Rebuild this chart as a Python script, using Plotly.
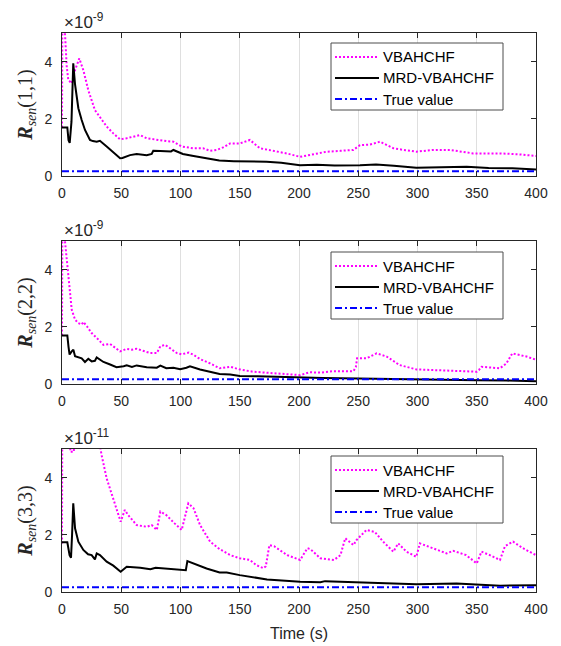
import plotly.graph_objects as go
from plotly.subplots import make_subplots

# time axis ticks
x_ticks = [0, 50, 100, 150, 200, 250, 300, 350, 400]
y_ticks = [0, 2, 4]
true_value = 0.17
series_names = ["VBAHCHF", "MRD-VBAHCHF", "True value"]

# panel 1: R_sen(1,1), units of 1e-9
t1_mrd = [0, 4.5, 5.5, 6.5, 8, 9.5, 11, 13.8, 16.6, 19.4, 23.6, 26, 29.3, 32, 37.7, 43.3, 49, 51, 54,
          57.4, 63, 67, 71.5, 75.7, 77, 83, 88.3, 92, 94, 96, 102, 111, 122, 132.7, 145, 158, 172.7, 185,
          200.8, 215, 230, 251.5, 265, 280, 299, 320, 341.5, 360, 380, 400]
v1_mrd = [1.70, 1.70, 1.25, 1.16, 1.9, 3.94, 3.2, 2.37, 1.96, 1.61, 1.26, 1.22, 1.2, 1.23, 1.03, 0.82,
          0.62, 0.63, 0.68, 0.73, 0.77, 0.76, 0.73, 0.77, 0.88, 0.87, 0.85, 0.86, 0.91, 0.88, 0.77, 0.70,
          0.62, 0.54, 0.52, 0.51, 0.5, 0.46, 0.38, 0.39, 0.37, 0.38, 0.40, 0.36, 0.29, 0.31, 0.32, 0.28,
          0.27, 0.23]
t1_vb = [0, 0.3, 2.5, 4, 5.3, 8.2, 11, 14.6, 18, 22.2, 27.8, 32, 37.7, 43.3, 49, 54.6, 60, 65.8, 71.5,
         77, 82.7, 88, 94, 101, 110.8, 119, 125, 130.5, 136, 141.8, 150.2, 158.6, 167, 178, 189.6, 200.8,
         212, 223.4, 235, 245.8, 251.5, 260, 268.4, 279.6, 290, 299, 313, 327.4, 347, 369.6, 385, 397.7, 400]
v1_vb = [1.7, 6.0, 5.0, 3.82, 3.36, 3.24, 3.7, 4.11, 3.7, 3.0, 2.3, 2.07, 1.73, 1.49, 1.28, 1.32, 1.38,
         1.43, 1.32, 1.28, 1.26, 1.22, 1.2, 1.03, 0.97, 0.97, 0.88, 0.91, 1.0, 1.14, 1.14, 1.26, 0.97, 0.88,
         0.79, 0.67, 0.75, 0.85, 0.88, 0.91, 1.08, 1.1, 1.2, 0.97, 0.9, 0.85, 0.91, 0.91, 0.79, 0.79, 0.76,
         0.7, 0.7]

# panel 2: R_sen(2,2), units of 1e-9
t2_mrd = [0, 4.5, 5.5, 6.4, 8.2, 9.6, 11, 13.8, 16.6, 19.4, 22.2, 25, 27.8, 29.3, 35, 40.6, 46, 52, 54.6,
          59, 63, 71.5, 80, 83, 88, 94, 99.7, 105, 108, 116.5, 125, 133, 142, 150, 165, 180, 200.8, 220,
          250, 275, 300, 330, 350, 375, 400]
v2_mrd = [1.7, 1.7, 1.3, 1.03, 1.14, 1.2, 0.97, 0.93, 0.9, 0.77, 0.88, 0.79, 0.81, 0.93, 0.77, 0.68, 0.59,
          0.62, 0.65, 0.6, 0.65, 0.59, 0.57, 0.64, 0.55, 0.57, 0.52, 0.57, 0.62, 0.51, 0.44, 0.35, 0.33,
          0.28, 0.27, 0.25, 0.23, 0.21, 0.19, 0.17, 0.15, 0.14, 0.13, 0.12, 0.1]
t2_vb = [0, 0.3, 2.5, 4.5, 6.4, 8.2, 11, 13.8, 16.6, 18, 21, 25, 29.3, 35, 40.6, 45, 49, 54.6, 59, 63, 69,
         74.6, 80, 83, 87, 91, 97, 101, 107, 111, 116.5, 125, 133, 142, 150, 161, 173, 184.5, 201, 209,
         218, 229.5, 246, 248, 249, 257, 265.5, 274, 285, 299, 313, 327, 341, 350, 352, 354, 369.6, 375,
         380, 392, 400]
v2_vb = [1.7, 6.0, 5.0, 4.06, 3.24, 2.6, 2.25, 2.13, 2.08, 2.17, 2.02, 1.78, 1.61, 1.37, 1.4, 1.26, 1.14,
         1.23, 1.2, 1.23, 1.16, 1.08, 1.08, 1.32, 1.37, 1.26, 1.08, 1.04, 1.1, 1.02, 0.87, 0.72, 0.55, 0.6,
         0.51, 0.43, 0.4, 0.35, 0.31, 0.41, 0.4, 0.45, 0.45, 0.6, 0.9, 0.9, 1.07, 0.96, 0.66, 0.51, 0.49,
         0.47, 0.45, 0.43, 0.5, 0.6, 0.55, 0.72, 1.07, 0.96, 0.85]

# panel 3: R_sen(3,3), units of 1e-11
t3_mrd = [0, 4.5, 6.4, 7.6, 8.5, 9.5, 11, 13.8, 18, 22, 25, 27.8, 29.3, 32, 37.7, 43.3, 49.5, 54.6, 66,
          74.6, 79, 91.5, 103, 104.5, 105.8, 111, 116.5, 122, 133, 139, 150, 173, 201, 218, 222, 251, 275,
          299, 333, 369.6, 400]
v3_mrd = [1.74, 1.74, 1.29, 1.2, 2.0, 3.1, 2.23, 1.76, 1.47, 1.32, 1.29, 1.14, 1.35, 1.29, 1.06, 0.92,
          0.71, 0.88, 0.85, 0.8, 0.85, 0.8, 0.76, 0.76, 1.08, 1.0, 0.9, 0.82, 0.68, 0.68, 0.59, 0.44, 0.36,
          0.34, 0.38, 0.34, 0.3, 0.27, 0.3, 0.22, 0.24]
t3_vb = [0, 0.3, 6, 7, 10, 11, 20, 32, 33.4, 37.7, 43.3, 47.5, 49.5, 53, 55.8, 63, 71.5, 75.7, 80, 83, 88,
         95, 101, 106.6, 111, 116.5, 125, 133, 142, 150, 158.6, 164, 170, 172, 175, 179, 190, 201, 207,
         209.6, 218, 229.5, 235, 239, 246, 248.6, 257, 264, 271, 279.6, 283.7, 290.7, 299, 302, 313, 324.6,
         330, 341, 350, 354, 361, 369.6, 373.8, 380.6, 389, 399, 400]
v3_vb = [1.7, 8, 8, 4.9, 4.9, 8, 8, 5.2, 4.79, 3.97, 3.27, 2.69, 2.46, 2.87, 2.69, 2.34, 2.28, 2.34, 2.17,
         2.81, 2.69, 2.4, 2.17, 3.1, 2.93, 2.34, 1.76, 1.5, 1.29, 1.18, 1.12, 0.94, 0.83, 0.9, 1.64, 1.6,
         1.29, 1.12, 1.53, 1.5, 1.18, 1.12, 1.29, 1.88, 1.64, 1.82, 2.17, 2.1, 1.76, 1.41, 1.7, 1.41, 1.23,
         1.7, 1.53, 1.35, 1.44, 1.29, 1.0, 1.41, 1.29, 1.12, 1.6, 1.76, 1.53, 1.29, 1.29]

panels = [
    (t1_vb, v1_vb, t1_mrd, v1_mrd, "(1,1)", "-9"),
    (t2_vb, v2_vb, t2_mrd, v2_mrd, "(2,2)", "-9"),
    (t3_vb, v3_vb, t3_mrd, v3_mrd, "(3,3)", "-11"),
]

W, H = 561, 646
ML, MR, MT, MB = 62, 25, 33, 54
pw = W - ML - MR
ph = H - MT - MB
# panel pixel extents (top, bottom) and legend box tops
px_rows = [(33, 176), (241, 384), (449, 592)]
legend_tops = [43, 252, 456]

styles = [dict(color="#ff00ff", width=2, dash="2px,2px"),
          dict(color="#000000", width=2),
          dict(color="#0000ff", width=2, dash="7px,3px,2px,3px")]


def py2paper(p):
    return (H - MB - p) / ph


def px2paper(p):
    return (p - ML) / pw


fig = make_subplots(rows=3, cols=1)
axis_col = "#262626"
tick_font = dict(family="Liberation Sans, Arial", size=14, color=axis_col)

for i, (tv, vv, tm, vm, idx, expo) in enumerate(panels):
    r = i + 1
    fig.add_trace(go.Scatter(x=tv, y=vv, mode="lines", name=series_names[0], line=styles[0]), row=r, col=1)
    fig.add_trace(go.Scatter(x=tm, y=vm, mode="lines", name=series_names[1], line=styles[1]), row=r, col=1)
    fig.add_trace(go.Scatter(x=[0, 400], y=[true_value, true_value], mode="lines", name=series_names[2],
                             line=styles[2]), row=r, col=1)

    top, bot = px_rows[i]
    dom = [py2paper(bot), py2paper(top)]
    xa = "xaxis" if r == 1 else "xaxis%d" % r
    ya = "yaxis" if r == 1 else "yaxis%d" % r
    fig.update_layout(**{
        xa: dict(range=[0, 400], tickvals=x_ticks, showgrid=True, gridcolor="#dfdfdf", gridwidth=1,
                 zeroline=False, showline=True, linecolor=axis_col, linewidth=1, mirror="ticks",
                 ticks="inside", ticklen=5, tickcolor=axis_col, tickfont=tick_font, domain=[0, 1],
                 ticklabelstandoff=4, automargin=False),
        ya: dict(range=[0, 5], tickvals=y_ticks, showgrid=False, zeroline=False, showline=True,
                 linecolor=axis_col, linewidth=1, mirror="ticks", ticks="inside", ticklen=5,
                 tickcolor=axis_col, tickfont=tick_font, domain=dom, ticklabelstandoff=6,
                 automargin=False,
                 title=dict(text="<b><i>R</i></b><sub><i>sen</i></sub>" + idx, standoff=6,
                            font=dict(family="Liberation Serif, Times New Roman", size=20, color=axis_col))),
    })
    fig.add_annotation(xref="paper", yref="paper", x=0, y=dom[1], xanchor="left", yanchor="bottom",
                       text="\u00d710<sup>" + expo + "</sup>", showarrow=False, yshift=-1,
                       font=dict(family="Liberation Sans, Arial", size=17, color=axis_col))

    # legend box drawn per panel
    lt = legend_tops[i]
    fig.add_shape(type="rect", xref="paper", yref="paper", x0=px2paper(331), x1=px2paper(503),
                  y0=py2paper(lt + 67), y1=py2paper(lt), line=dict(color="#4d4d4d", width=1),
                  fillcolor="white", layer="above")
    for k, name in enumerate(series_names):
        ey = py2paper(lt + 14 + 21 * k)
        fig.add_shape(type="line", xref="paper", yref="paper", x0=px2paper(335), x1=px2paper(379),
                      y0=ey, y1=ey, line=styles[k], layer="above")
        fig.add_annotation(xref="paper", yref="paper", x=px2paper(381), y=ey, xanchor="left",
                           yanchor="middle", text=name, showarrow=False,
                           font=dict(family="Liberation Sans, Arial", size=15, color="black"))

fig.update_xaxes(title=dict(text="Time (s)", standoff=12,
                            font=dict(family="Liberation Sans, Arial", size=16, color=axis_col)), row=3, col=1)

fig.update_layout(width=W, height=H, margin=dict(l=ML, r=MR, t=MT, b=MB),
                  plot_bgcolor="white", paper_bgcolor="white", showlegend=False)

fig.write_html("out.html", config={"displayModeBar": False},
               post_script="document.body.style.margin='0';")
